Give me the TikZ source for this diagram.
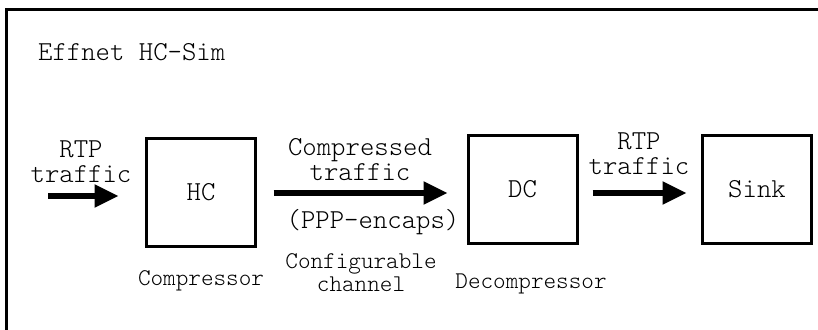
\documentclass[tikz,border=0pt]{standalone}
\usetikzlibrary{arrows.meta}
\begin{document}
\begin{tikzpicture}[x=1pt,y=-1pt,
  big/.style={font=\fontsize{27.4}{25}\fontseries{l}\ttfamily\selectfont, align=center, inner sep=0pt},
  small/.style={font=\fontsize{24}{23}\fontseries{l}\ttfamily\selectfont, align=center, inner sep=0pt},
  unit/.style={draw, line width=3pt, minimum width=109pt, minimum height=108pt,
    inner sep=0pt, font=\fontsize{27.4}{25}\fontseries{l}\ttfamily\selectfont},
  flow/.style={line width=5.5pt, -{Triangle[length=24pt,width=22pt]}}]
\useasboundingbox (0,0) rectangle (818,329);
% open frame (runs off the page at right and bottom)
\draw[line width=3pt] (6.5,340) -- (6.5,10) -- (830,10);
\node[big, anchor=base west] (title) at (38,60) {Effnet HC-Sim};

% processing units
\node[unit] (hc) at (201,192.5) {HC};
\node[unit] (dc) at (522.5,189.5) {DC};
\node[unit] (sink) at (757,189.5) {Sink};

% connectors
\coordinate (src) at (48,196);
\coordinate (row) at (0,193);
\draw[flow, shorten >=26.5pt] (src) -- (src -| hc.west);
\draw[flow, shorten <=16.5pt, shorten >=19pt] (hc.east |- row) -- (dc.west |- row);
\draw[flow, shorten <=14pt, shorten >=14.5pt] (dc.east |- row) -- (sink.west |- row);

% labels (base anchor sits on the last line)
\node[big, anchor=base] (inlbl) at (81,182) {RTP\\traffic};
\node[big, anchor=base] (chlbl) at (360,180) {Compressed\\traffic};
\node[big, anchor=base] (encap) at (373,228) {(PPP-encaps)};
\node[big, anchor=base] (outlbl) at (639,174) {RTP\\traffic};
\node[small, anchor=base] (hcname) at (201,285) {Compressor};
\node[small, anchor=base] (chname) at (361,291) {Configurable\\channel};
\node[small, anchor=base] (dcname) at (531,288) {Decompressor};
\end{tikzpicture}
\end{document}
